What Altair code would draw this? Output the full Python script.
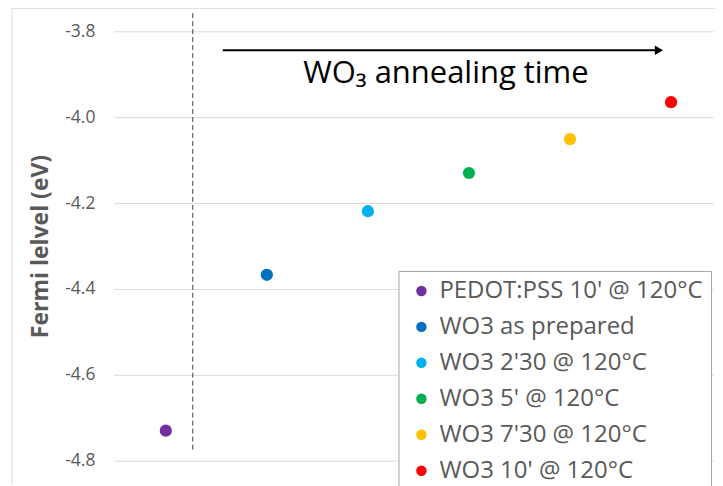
import altair as alt
import pandas as pd

# ---- data ----
labels = ["PEDOT:PSS 10' @ 120°C", "WO3 as prepared", "WO3 2'30 @ 120°C",
          "WO3 5' @ 120°C", "WO3 7'30 @ 120°C", "WO3 10' @ 120°C"]
positions = [1, 2, 3, 4, 5, 6]
fermi = [-4.73, -4.367, -4.219, -4.13, -4.051, -3.965]
colors = ["#7030A0", "#0070C0", "#00B0F0", "#00B050", "#FFC000", "#FF0000"]
y_ticks = [-4.8, -4.6, -4.4, -4.2, -4.0, -3.8]

divider_x = [1.267, 1.267]
divider_y = [-4.774, -3.756]
arrow_x = [1.564, 5.85]
arrow_y = [-3.844, -3.844]
arrow_head_x = [5.88]
arrow_head_y = [-3.844]
annot_text = ["WO₃ annealing time"]
annot_x = [3.772]
annot_y = [-3.921]

FONT = "Open Sans"
W, H = 600, 430
xscale = alt.Scale(domain=[0.486, 6.415], nice=False, zero=False)
yscale = alt.Scale(domain=[-4.8, -3.8], nice=False, zero=False)

pts = pd.DataFrame({"x": positions, "y": fermi, "label": labels})
div = pd.DataFrame({"x": divider_x, "y": divider_y})
arr = pd.DataFrame({"x": arrow_x, "y": arrow_y})
head = pd.DataFrame({"x": arrow_head_x, "y": arrow_head_y})
annot = pd.DataFrame({"x": annot_x, "y": annot_y, "t": annot_text})
one = pd.DataFrame({"a": [0]})

border_left = alt.Chart(one).mark_rule(color="#d9d9d9", strokeWidth=1).encode(
    x=alt.value(-102), y=alt.value(-23), y2=alt.value(H + 24))
border_top = alt.Chart(one).mark_rule(color="#d9d9d9", strokeWidth=1).encode(
    x=alt.value(-102), x2=alt.value(W + 20), y=alt.value(-23))

points = alt.Chart(pts).mark_circle(size=150, opacity=1).encode(
    x=alt.X("x:Q", scale=xscale, axis=None),
    y=alt.Y("y:Q", scale=yscale,
            axis=alt.Axis(values=y_ticks, format=".1f",
                          labelExpr="replace(datum.label, '\u2212', '-')",
                          title="Fermi lelvel (eV)",
                          domain=False, ticks=False, labelPadding=19,
                          labelFont=FONT, labelFontSize=17.5, labelColor="#595959",
                          titleFont=FONT, titleFontSize=23, titleFontWeight="bold",
                          titleColor="#595959",
                          titlePadding=12, grid=True, gridColor="#d9d9d9")),
    color=alt.Color("label:N", scale=alt.Scale(domain=labels, range=colors),
                    legend=alt.Legend(title=None, orient="none", legendX=285, legendY=240,
                                      labelFont=FONT, labelFontSize=24, labelColor="#595959",
                                      symbolType="circle", symbolSize=110,
                                      symbolStrokeWidth=0, rowPadding=12,
                                      padding=8, symbolOffset=3, labelOffset=6,
                                      strokeColor="#a6a6a6",
                                      fillColor="white", labelLimit=400)),
)

divider = alt.Chart(div).mark_line(color="#404040", strokeDash=[5, 3], strokeWidth=1).encode(
    x=alt.X("x:Q", scale=xscale, axis=None), y=alt.Y("y:Q", scale=yscale))

arrow = alt.Chart(arr).mark_line(color="black", strokeWidth=2).encode(
    x=alt.X("x:Q", scale=xscale, axis=None), y=alt.Y("y:Q", scale=yscale))

arrowhead = alt.Chart(head).mark_point(shape="triangle-right", filled=True, color="black",
                                       size=90, opacity=1).encode(
    x=alt.X("x:Q", scale=xscale, axis=None), y=alt.Y("y:Q", scale=yscale))

text = alt.Chart(annot).mark_text(fontSize=31, color="black", baseline="alphabetic",
                                  align="center", font=FONT).encode(
    x=alt.X("x:Q", scale=xscale, axis=None), y=alt.Y("y:Q", scale=yscale), text="t:N")

chart = alt.layer(border_left, border_top, divider, arrow, arrowhead, text, points).properties(
    width=W, height=H,
    autosize=alt.AutoSizeParams(type="none"),
    padding={"left": 106, "top": 23, "right": 2, "bottom": 25},
).configure_view(stroke=None)

chart.save("out.html", embed_options={"renderer": "svg", "actions": False})
